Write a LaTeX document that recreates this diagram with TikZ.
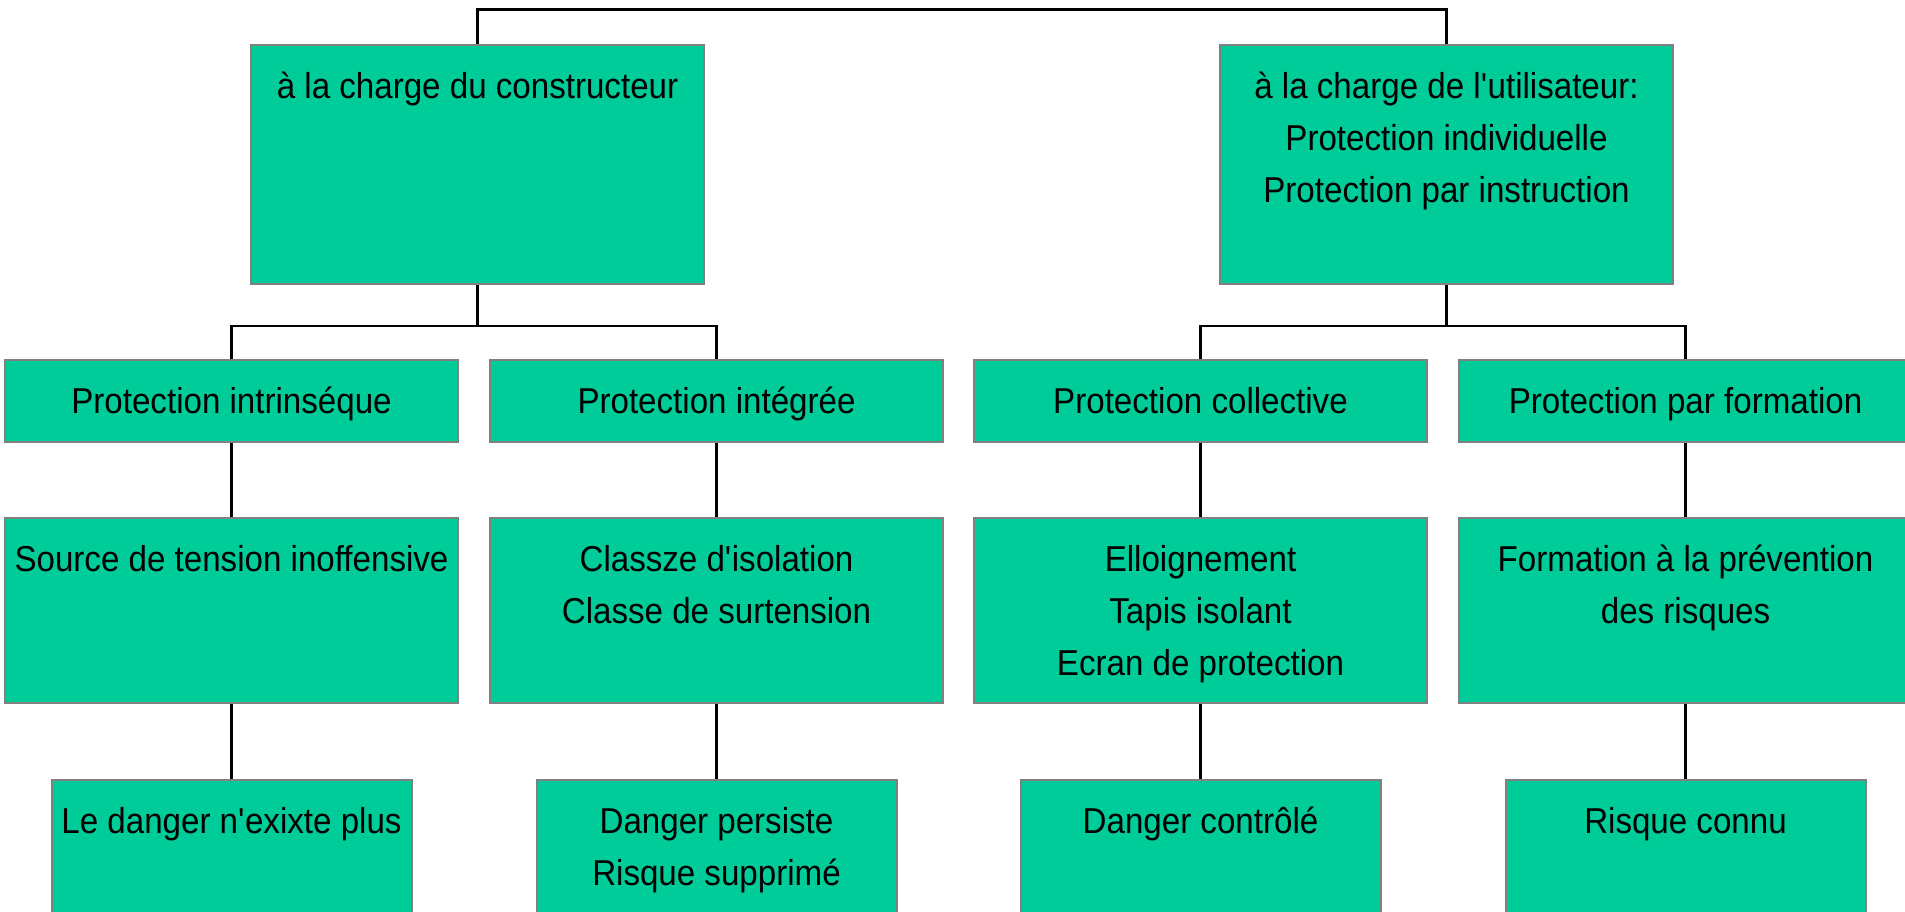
\documentclass[tikz,border=0pt]{standalone}
\usepackage{fontspec}
\setmainfont{Liberation Sans}[FakeStretch=0.92]
\definecolor{boxfill}{HTML}{00CC99}
\definecolor{boxline}{HTML}{808080}
\newcommand{\topstrut}{\rule{0pt}{36pt}}
\tikzset{
  box/.style={draw=boxline, line width=2pt, fill=boxfill, rectangle,
    inner sep=0pt, anchor=north west},
  wide/.style={box, minimum width=453pt},
  topbox/.style={wide, minimum height=239pt},
  rowbox/.style={wide, minimum height=82pt},
  midbox/.style={wide, minimum height=185pt},
  lowbox/.style={box, minimum width=360pt, minimum height=150pt},
  txt/.style={anchor=north, inner sep=0pt, align=center,
    font=\fontsize{36}{52}\selectfont},
  link/.style={draw=black, line width=2.3pt}
}
\begin{document}
\begin{tikzpicture}[x=1pt, y=-1pt]
\useasboundingbox (0,0) rectangle (1905,911);

% first level
\node[topbox] (c1) at (250,44) {};
\node[topbox] (c2) at (1219,44) {};
% second level
\node[rowbox] (p1) at (4,359) {};
\node[rowbox] (p2) at (489,359) {};
\node[rowbox] (p3) at (973,359) {};
\node[rowbox] (p4) at (1458,359) {};
% third level
\node[midbox] (s1) at (4,517) {};
\node[midbox] (s2) at (489,517) {};
\node[midbox] (s3) at (973,517) {};
\node[midbox] (s4) at (1458,517) {};
% fourth level
\node[lowbox] (r1) at (50.5,779) {};
\node[lowbox] (r2) at (535.5,779) {};
\node[lowbox] (r3) at (1019.5,779) {};
\node[lowbox] (r4) at (1504.5,779) {};

% labels, hung from the top edge of each box
\node[txt] (tc1) at ([yshift=-18pt]c1.north) {\topstrut à la charge du constructeur};
\node[txt] (tc2) at ([yshift=-18pt]c2.north) {\topstrut à la charge de l\textquotesingle utilisateur:\\Protection individuelle\\Protection par instruction};
\node[txt] (tp1) at ([yshift=-18pt]p1.north) {\topstrut Protection intrinséque};
\node[txt] (tp2) at ([yshift=-18pt]p2.north) {\topstrut Protection intégrée};
\node[txt] (tp3) at ([yshift=-18pt]p3.north) {\topstrut Protection collective};
\node[txt] (tp4) at ([yshift=-18pt]p4.north) {\topstrut Protection par formation};
\node[txt] (ts1) at ([yshift=-18pt]s1.north) {\topstrut Source de tension inoffensive};
\node[txt] (ts2) at ([yshift=-18pt]s2.north) {\topstrut Classze d\textquotesingle isolation\\Classe de surtension};
\node[txt] (ts3) at ([yshift=-18pt]s3.north) {\topstrut Elloignement\\Tapis isolant\\Ecran de protection};
\node[txt] (ts4) at ([yshift=-18pt]s4.north) {\topstrut Formation à la prévention\\des risques};
\node[txt] (tr1) at ([yshift=-18pt]r1.north) {\topstrut Le danger n\textquotesingle exixte plus};
\node[txt] (tr2) at ([yshift=-18pt]r2.north) {\topstrut Danger persiste\\Risque supprimé};
\node[txt] (tr3) at ([yshift=-18pt]r3.north) {\topstrut Danger contrôlé};
\node[txt] (tr4) at ([yshift=-18pt]r4.north) {\topstrut Risque connu};

% connectors
\coordinate (root) at ([yshift=34.5pt]c1.north);
\draw[link] (c1.north) -- (root) -| (c2.north);

\coordinate (b1) at ([yshift=-41pt]c1.south);
\coordinate (b2) at ([yshift=-41pt]c2.south);
\draw[link] (c1.south) -- (b1);
\draw[link] (c2.south) -- (b2);
\draw[link] (p1.north) |- (b1) -| (p2.north);
\draw[link] (p3.north) |- (b2) -| (p4.north);

\foreach \i in {1,2,3,4}{
  \draw[link] (p\i.south) -- (s\i.north);
  \draw[link] (s\i.south) -- (r\i.north);
}
\end{tikzpicture}
\end{document}
